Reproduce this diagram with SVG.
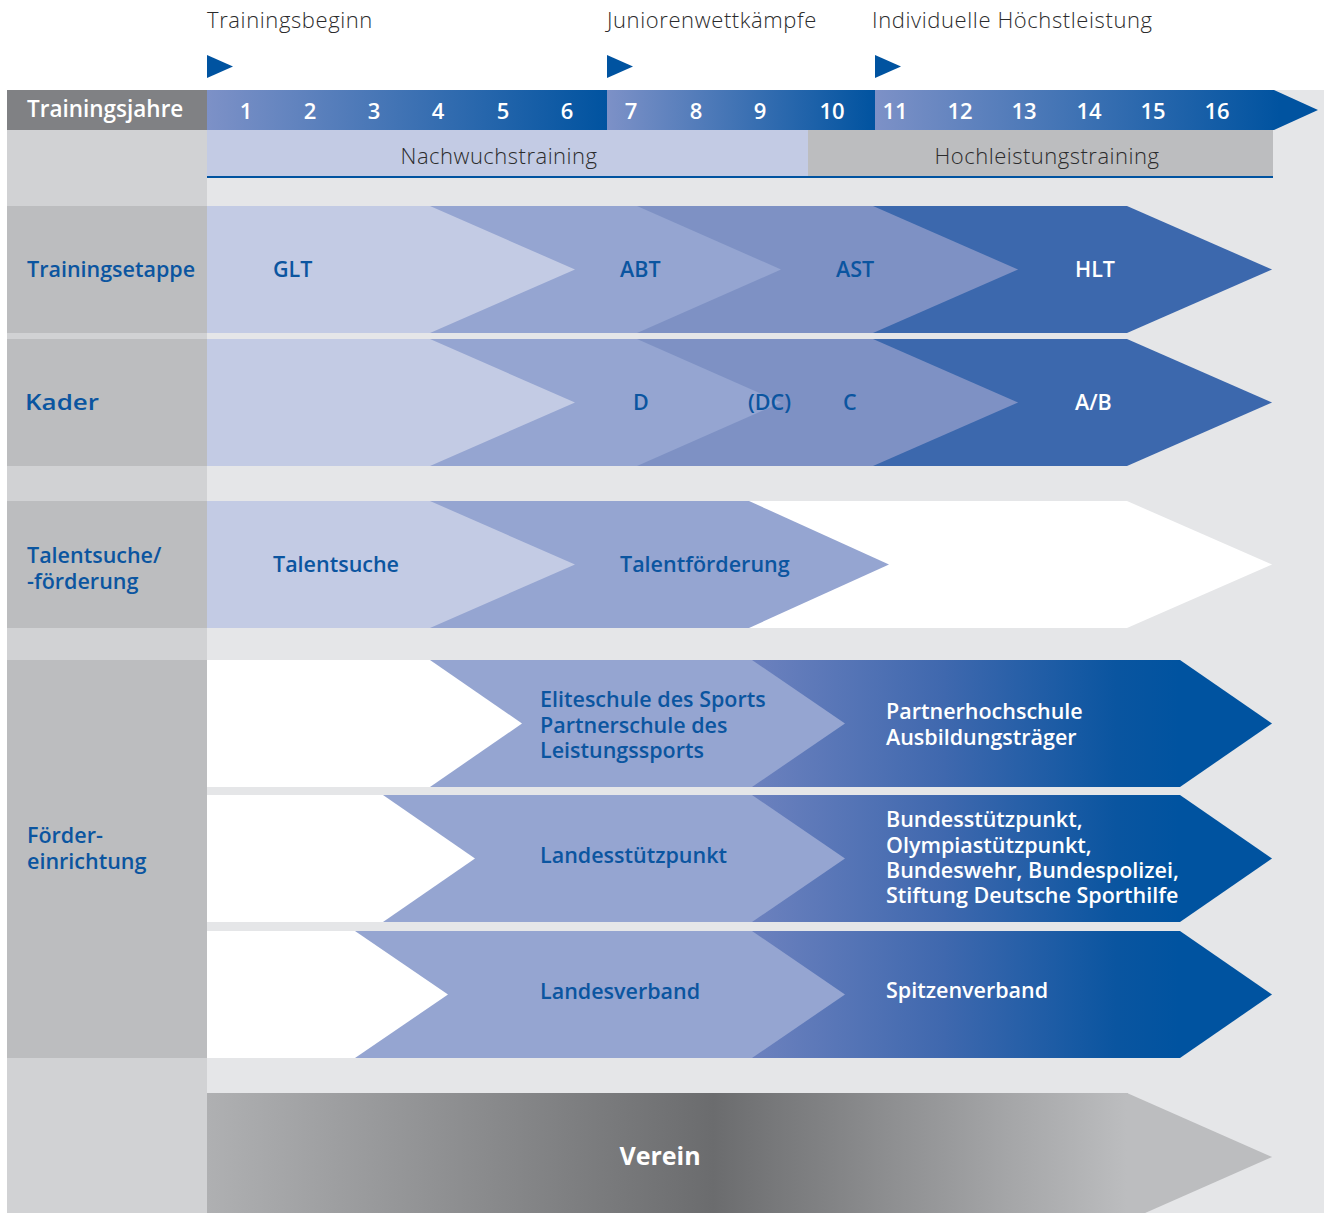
<svg xmlns="http://www.w3.org/2000/svg" width="1324" height="1213" viewBox="0 0 1324 1213">
<defs>
<linearGradient id="hdr1" gradientUnits="userSpaceOnUse" x1="207" y1="0" x2="607" y2="0"><stop offset="0" stop-color="#7d91c7"/><stop offset="1" stop-color="#0053a0"/></linearGradient>
<linearGradient id="hdr2" gradientUnits="userSpaceOnUse" x1="607" y1="0" x2="875" y2="0"><stop offset="0" stop-color="#7d91c7"/><stop offset="1" stop-color="#0053a0"/></linearGradient>
<linearGradient id="hdr3" gradientUnits="userSpaceOnUse" x1="875" y1="0" x2="1280" y2="0"><stop offset="0" stop-color="#7d91c7"/><stop offset="1" stop-color="#0053a0"/></linearGradient>
<linearGradient id="blueg" gradientUnits="userSpaceOnUse" x1="752" y1="0" x2="1180" y2="0"><stop offset="0" stop-color="#6c81be"/><stop offset="0.45" stop-color="#3f68ae"/><stop offset="0.85" stop-color="#0a55a0"/><stop offset="1" stop-color="#0053a0"/></linearGradient>
<linearGradient id="greyg" gradientUnits="userSpaceOnUse" x1="207" y1="0" x2="1127" y2="0"><stop offset="0" stop-color="#afb0b2"/><stop offset="0.55" stop-color="#6b6c6e"/><stop offset="1" stop-color="#bcbdbf"/></linearGradient>
<style>
text{font-family:"Open Sans","Liberation Sans",sans-serif}
.top{font-size:22px;font-weight:300;letter-spacing:0.6px;fill:#2b2b2c}
.num{font-size:22px;font-weight:600;fill:#ffffff}
.band{font-size:22px;font-weight:300;letter-spacing:0.5px;fill:#2b2b2c}
.lbl{font-size:21.5px;font-weight:600;fill:#0b55a0}
.lblw{font-size:21.5px;font-weight:600;fill:#ffffff}
.c1{fill:#c3cbe4}
.c2{fill:#95a5d1}
.c3{fill:#7e91c4}
.c4{fill:#3c68ad}
.mk{fill:#0053a0}
</style>
</defs>
<rect x="0" y="0" width="1324" height="1213" fill="#ffffff"/>
<rect x="207" y="90" width="1117" height="1123" fill="#e5e6e8"/>
<rect x="7" y="130" width="200" height="1083" fill="#d1d2d4"/>

<g id="markers">
<text class="top" x="207" y="28">Trainingsbeginn</text>
<polygon class="mk" points="207,55 233,66.5 207,78"/>
<text class="top" x="607" y="28">Juniorenwettkämpfe</text>
<polygon class="mk" points="607,55 633,66.5 607,78"/>
<text class="top" x="872" y="28">Individuelle Höchstleistung</text>
<polygon class="mk" points="875,55 901,66.5 875,78"/>
</g>

<g id="header">
<rect x="7" y="90" width="200" height="40" fill="#808184"/>
<text x="27" y="117" font-size="22.5" font-weight="600" fill="#ffffff">Trainingsjahre</text>
<rect x="207" y="90" width="400" height="40" fill="url(#hdr1)"/>
<rect x="607" y="90" width="268" height="40" fill="url(#hdr2)"/>
<polygon points="875,90 1274,90 1318,110 1274,130 875,130" fill="url(#hdr3)"/>
<g text-anchor="middle">
<text class="num" x="246" y="119">1</text>
<text class="num" x="310" y="119">2</text>
<text class="num" x="374" y="119">3</text>
<text class="num" x="438" y="119">4</text>
<text class="num" x="503" y="119">5</text>
<text class="num" x="567" y="119">6</text>
<text class="num" x="631" y="119">7</text>
<text class="num" x="696" y="119">8</text>
<text class="num" x="760" y="119">9</text>
<text class="num" x="832" y="119">10</text>
<text class="num" x="895" y="119">11</text>
<text class="num" x="960" y="119">12</text>
<text class="num" x="1024" y="119">13</text>
<text class="num" x="1089" y="119">14</text>
<text class="num" x="1153" y="119">15</text>
<text class="num" x="1217" y="119">16</text>
</g>
</g>

<g id="phases">
<rect x="207" y="130" width="601" height="47" fill="#c3cbe4"/>
<rect x="808" y="130" width="465" height="47" fill="#bcbdbf"/>
<rect x="207" y="176" width="1066" height="2" fill="#0053a0"/>
<text class="band" x="499" y="164" text-anchor="middle">Nachwuchstraining</text>
<text class="band" x="1047" y="164" text-anchor="middle">Hochleistungstraining</text>
</g>

<g id="row-trainingsetappe">
<rect x="7" y="206" width="200" height="127" fill="#bcbdbf"/>
<text class="lbl" x="27" y="277">Trainingsetappe</text>
<polygon class="c4" points="207,206 1127,206 1272,269.5 1127,333 207,333"/>
<polygon class="c3" points="207,206 873,206 1018,269.5 873,333 207,333"/>
<polygon class="c2" points="207,206 637,206 781,269.5 637,333 207,333"/>
<polygon class="c1" points="207,206 430,206 575,269.5 430,333 207,333"/>
<text class="lbl" x="273" y="277">GLT</text>
<text class="lbl" x="620" y="277">ABT</text>
<text class="lbl" x="836" y="277">AST</text>
<text class="lblw" x="1075" y="277">HLT</text>
</g>

<g id="row-kader">
<rect x="7" y="339" width="200" height="127" fill="#bcbdbf"/>
<text class="lbl" x="25" y="410" font-size="26" font-weight="700" textLength="74" lengthAdjust="spacingAndGlyphs">Kader</text>
<polygon class="c4" points="207,339 1127,339 1272,402.5 1127,466 207,466"/>
<polygon class="c3" points="207,339 873,339 1018,402.5 873,466 207,466"/>
<polygon class="c2" points="207,339 637,339 781,402.5 637,466 207,466"/>
<polygon class="c1" points="207,339 430,339 575,402.5 430,466 207,466"/>
<text class="lbl" x="633" y="410">D</text>
<text class="lbl" x="748" y="410">(DC)</text>
<text class="lbl" x="843" y="410">C</text>
<text class="lblw" x="1075" y="410">A/B</text>
</g>

<g id="row-talent">
<rect x="7" y="501" width="200" height="127" fill="#bcbdbf"/>
<text class="lbl" x="27" y="563">Talentsuche/<tspan x="27" y="589">-förderung</tspan></text>
<polygon fill="#ffffff" points="207,501 1127,501 1272,564.5 1127,628 207,628"/>
<polygon class="c2" points="207,501 749,501 889,564.5 749,628 207,628"/>
<polygon class="c1" points="207,501 430,501 575,564.5 430,628 207,628"/>
<text class="lbl" x="273" y="572">Talentsuche</text>
<text class="lbl" x="620" y="572">Talentförderung</text>
</g>

<g id="row-foerder">
<rect x="7" y="660" width="200" height="398" fill="#bcbdbf"/>
<text class="lbl" x="27" y="843">Förder-<tspan x="27" y="869">einrichtung</tspan></text>
</g>

<g id="foerder-1">
<polygon fill="url(#blueg)" points="207,660 1180,660 1272,723.5 1180,787 207,787"/>
<polygon class="c2" points="207,660 752,660 845,723.5 752,787 207,787"/>
<polygon fill="#ffffff" points="207,660 430,660 522,723.5 430,787 207,787"/>
<text class="lbl" x="540" y="707">Eliteschule des Sports<tspan x="540" y="733">Partnerschule des</tspan><tspan x="540" y="758">Leistungssports</tspan></text>
<text class="lblw" x="886" y="719">Partnerhochschule<tspan x="886" y="745">Ausbildungsträger</tspan></text>
</g>

<g id="foerder-2">
<polygon fill="url(#blueg)" points="207,795 1180,795 1272,858.5 1180,922 207,922"/>
<polygon class="c2" points="207,795 752,795 845,858.5 752,922 207,922"/>
<polygon fill="#ffffff" points="207,795 383,795 475,858.5 383,922 207,922"/>
<text class="lbl" x="540" y="863">Landesstützpunkt</text>
<text class="lblw" x="886" y="827">Bundesstützpunkt,<tspan x="886" y="853">Olympiastützpunkt,</tspan><tspan x="886" y="878">Bundeswehr, Bundespolizei,</tspan><tspan x="886" y="903">Stiftung Deutsche Sporthilfe</tspan></text>
</g>

<g id="foerder-3">
<polygon fill="url(#blueg)" points="207,931 1180,931 1272,994.5 1180,1058 207,1058"/>
<polygon class="c2" points="207,931 752,931 845,994.5 752,1058 207,1058"/>
<polygon fill="#ffffff" points="207,931 355,931 448,994.5 355,1058 207,1058"/>
<text class="lbl" x="540" y="999">Landesverband</text>
<text class="lblw" x="886" y="998">Spitzenverband</text>
</g>

<g id="verein">
<polygon fill="#bcbdbf" points="1100,1093 1127,1093 1272,1157 1127,1221 1100,1221"/>
<rect x="207" y="1093" width="921" height="120" fill="url(#greyg)"/>
<text x="660" y="1165" text-anchor="middle" font-size="25" font-weight="700" fill="#ffffff">Verein</text>
</g>

<g id="connectors"/>
</svg>
